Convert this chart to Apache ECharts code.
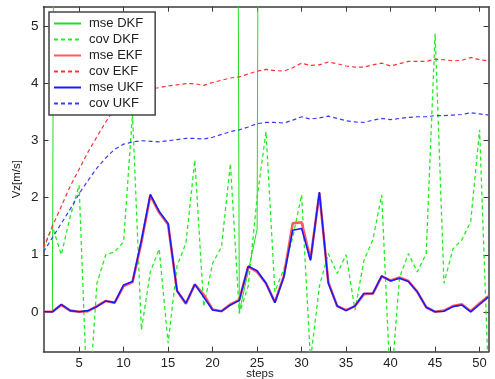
<!DOCTYPE html>
<html>
<head>
<meta charset="utf-8">
<script src="https://cdn.jsdelivr.net/npm/echarts@6/dist/echarts.min.js"></script>
<style>
html, body { margin: 0; padding: 0; background: #fff; }
#chart { width: 495px; height: 379px; }
</style>
</head>
<body>
<div id="chart"></div>
<script>
// Filter comparison: mean-square error and covariance of Vz for DKF, EKF and UKF
const steps = [1, 2, 3, 4, 5, 6, 7, 8, 9, 10, 11, 12, 13, 14, 15, 16, 17, 18, 19, 20,
  21, 22, 23, 24, 25, 26, 27, 28, 29, 30, 31, 32, 33, 34, 35, 36, 37, 38, 39, 40,
  41, 42, 43, 44, 45, 46, 47, 48, 49, 50, 51];
const xTicks = [5, 10, 15, 20, 25, 30, 35, 40, 45, 50];
const yTicks = [0, 1, 2, 3, 4, 5];

// DKF diverges: its error leaves the visible range for long stretches
const mseDKF = [0, 0, 48, 48, 48, 48, 48, 48, 48, 48, 48, 48, 48, 48, 48, 48, 48, 48, 48, 48,
  48, 48, 0, 0.7, 1.45, 48, 48, 48, 48, 48, 48, 48, 48, 48, 48, 48, 48, 48, 48, 48,
  48, 48, 48, 48, 48, 48, 48, 48, 48, 48, 48];
const covDKF = [1.1, 1.5, 1.0, 1.67, 2.22, -1.9, 0.5, 1.0, 1.05, 1.23, 3.47, -0.32, 0.7, 1.1, -0.55, 0.8, 1.2, 2.66, 0.09, 0.85,
  1.14, 2.6, -0.03, 0.45, 2.0, 3.16, 0.35, 0.75, 1.3, 2.05, -0.85, 0.45, 1.02, 0.67, 1.0, 0.03, 0.9, 1.26, 2.05, -1.4,
  0.6, 1.02, 0.7, 1.02, 4.88, 0.5, 1.1, 1.26, 1.58, 3.19, -1.2];
const mseEKF = [0, 0, 0.12, 0.02, 0, 0.01, 0.1, 0.19, 0.16, 0.45, 0.52, 1.22, 2.04, 1.74, 1.53, 0.37, 0.14, 0.48, 0.3, 0.04,
  0.01, 0.13, 0.21, 0.79, 0.7, 0.5, 0.17, 0.62, 1.55, 1.57, 0.92, 2.08, 0.52, 0.1, 0.03, 0.1, 0.31, 0.32, 0.62, 0.55,
  0.6, 0.54, 0.35, 0.08, 0, 0.02, 0.1, 0.13, 0.01, 0.15, 0.27];
const covEKF = [1.12, 1.5, 1.85, 2.2, 2.5, 2.8, 3.07, 3.33, 3.56, 3.72, 3.82, 3.88, 3.91, 3.93, 3.96, 3.98, 4.0, 4.0, 3.97, 4.02,
  4.06, 4.1, 4.12, 4.17, 4.22, 4.25, 4.23, 4.22, 4.28, 4.36, 4.32, 4.33, 4.38, 4.35, 4.31, 4.29, 4.29, 4.33, 4.36, 4.31,
  4.35, 4.39, 4.39, 4.39, 4.43, 4.42, 4.4, 4.41, 4.46, 4.42, 4.4];
const mseUKF = [0, 0, 0.13, 0.02, 0, 0.02, 0.09, 0.19, 0.16, 0.47, 0.53, 1.25, 2.06, 1.76, 1.55, 0.37, 0.15, 0.48, 0.26, 0.03,
  0.01, 0.12, 0.2, 0.8, 0.72, 0.5, 0.16, 0.61, 1.43, 1.46, 0.9, 2.1, 0.5, 0.1, 0.02, 0.1, 0.32, 0.32, 0.63, 0.54,
  0.59, 0.53, 0.35, 0.08, 0, 0.01, 0.09, 0.12, 0, 0.13, 0.26];
const covUKF = [1.05, 1.3, 1.55, 1.8, 2.07, 2.3, 2.52, 2.7, 2.85, 2.94, 2.98, 3.0, 2.99, 2.98, 3.0, 3.02, 3.04, 3.04, 3.03, 3.06,
  3.11, 3.16, 3.19, 3.24, 3.3, 3.32, 3.32, 3.31, 3.36, 3.42, 3.38, 3.4, 3.43, 3.39, 3.35, 3.33, 3.32, 3.36, 3.39, 3.37,
  3.39, 3.41, 3.42, 3.42, 3.44, 3.44, 3.45, 3.46, 3.49, 3.47, 3.45];

const FONT = 'Liberation Sans, Arial, Helvetica, sans-serif';
const AXIS_COLOR = '#3a3a3a';

function pairs(values) {
  return steps.map((s, i) => [s, values[i]]);
}

function lineSeries(name, values, color, width, dashed) {
  return {
    name: name,
    type: 'line',
    data: pairs(values),
    color: color,
    symbol: 'none',
    clip: true,
    silent: true,
    emphasis: { disabled: true },
    lineStyle: { color: color, width: width, type: dashed ? [4, 3] : 'solid' }
  };
}

const frameLine = { show: true, onZero: false, lineStyle: { color: AXIS_COLOR, width: 1.5 } };

function xAxisDef(position, showLabels) {
  return {
    type: 'value', min: 1, max: 51, position: position,
    axisLine: frameLine,
    axisTick: { show: true, inside: true, length: 5, customValues: xTicks, lineStyle: { color: AXIS_COLOR, width: 1 } },
    axisLabel: { show: showLabels, customValues: xTicks, fontSize: 13, color: '#222', margin: 5, fontFamily: FONT },
    splitLine: { show: false }
  };
}
function yAxisDef(position, showLabels) {
  return {
    type: 'value', min: -0.7, max: 5.35, position: position,
    axisLine: frameLine,
    axisTick: { show: true, inside: true, length: 5, customValues: yTicks, lineStyle: { color: AXIS_COLOR, width: 1 } },
    axisLabel: { show: showLabels, customValues: yTicks, fontSize: 13.5, color: '#222', margin: 5, fontFamily: FONT },
    splitLine: { show: false }
  };
}

const xBottom = Object.assign(xAxisDef('bottom', true), {
  name: 'steps', nameLocation: 'middle', nameGap: 16, nameMoveOverlap: false,
  nameTextStyle: { fontSize: 11.5, color: '#222', fontFamily: FONT, padding: [0, 12, 0, 0] }
});
const yLeft = Object.assign(yAxisDef('left', true), {
  name: 'Vz[m/s]', nameLocation: 'middle', nameGap: 21, nameMoveOverlap: false,
  nameTextStyle: { fontSize: 11.5, color: '#222', fontFamily: FONT }
});

const chart = echarts.init(document.getElementById('chart'), null, { renderer: 'canvas' });
chart.setOption({
  animation: false,
  backgroundColor: '#fff',
  grid: { left: 43.5, right: 6.5, top: 6.7, bottom: 27.3, containLabel: false, outerBoundsMode: 'none' },
  legend: {
    orient: 'vertical', left: 49, top: 12,
    backgroundColor: '#fff', borderColor: '#444', borderWidth: 1.5, borderRadius: 0,
    padding: [5, 12, 5, 4],
    itemWidth: 27, itemHeight: 12, itemGap: 3,
    itemStyle: { opacity: 0 },
    selectedMode: false,
    textStyle: { fontSize: 13, color: '#222', fontFamily: FONT, lineHeight: 12, padding: [0, 0, 0, 3] },
    data: ['mse DKF', 'cov DKF', 'mse EKF', 'cov EKF', 'mse UKF', 'cov UKF']
  },
  xAxis: [xBottom, xAxisDef('top', false)],
  yAxis: [yLeft, yAxisDef('right', false)],
  series: [
    lineSeries('mse DKF', mseDKF, '#22dd22', 1, false),
    lineSeries('cov DKF', covDKF, '#22ee22', 1.3, true),
    lineSeries('mse EKF', mseEKF, '#ff5a5a', 2.6, false),
    lineSeries('cov EKF', covEKF, '#ff3333', 1.2, true),
    lineSeries('mse UKF', mseUKF, '#1a1aff', 1.6, false),
    lineSeries('cov UKF', covUKF, '#3a3aff', 1.2, true)
  ]
});
</script>
</body>
</html>
